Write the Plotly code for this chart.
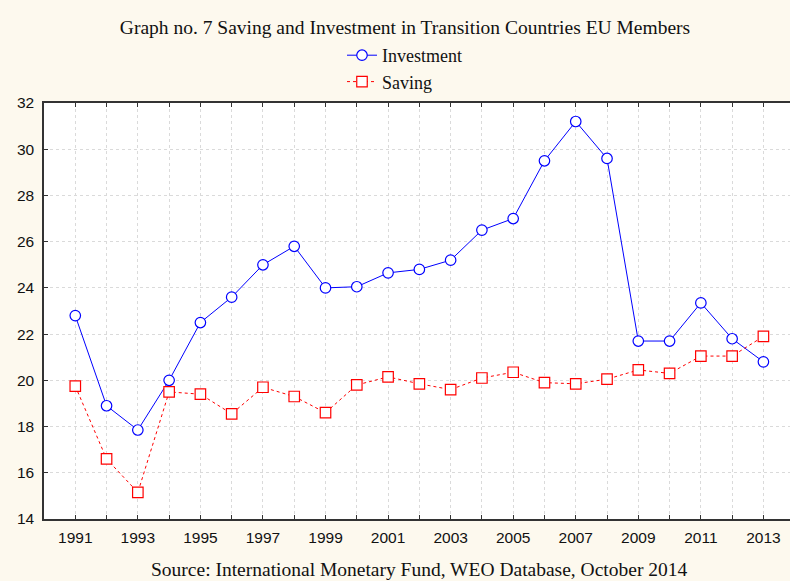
import plotly.graph_objects as go

years = list(range(1991, 2014))
investment = [22.8, 18.9, 17.85, 20.0, 22.5, 23.6, 25.0, 25.8, 24.0, 24.05, 24.65, 24.8,
              25.2, 26.5, 27.0, 29.5, 31.2, 29.6, 21.7, 21.7, 23.35, 21.8, 20.8]
saving = [19.75, 16.6, 15.15, 19.5, 19.4, 18.55, 19.7, 19.3, 18.6, 19.8, 20.15, 19.85,
          19.6, 20.1, 20.35, 19.9, 19.85, 20.05, 20.45, 20.3, 21.05, 21.05, 21.9]
x_tick_labels = [str(y) if y % 2 == 1 else "" for y in years]
y_ticks = [14, 16, 18, 20, 22, 24, 26, 28, 30, 32]

W, H = 790, 581
L, R, T, B = 44, 0, 103, 62
PW, PH = W - L - R, H - T - B

BG = "#fdf9ee"
serif = "Liberation Serif, Times New Roman, serif"
sans = "Liberation Sans, Arial, sans-serif"

fig = go.Figure()
fig.add_trace(go.Scatter(
    x=years, y=investment, name="Investment", mode="lines+markers",
    line=dict(color="#0000ff", width=1),
    marker=dict(symbol="circle", size=10.5, color="white", line=dict(color="#0000ff", width=1.2)),
))
fig.add_trace(go.Scatter(
    x=years, y=saving, name="Saving", mode="lines+markers",
    line=dict(color="#ff0000", width=1, dash="dot"),
    marker=dict(symbol="square", size=10.5, color="white", line=dict(color="#ff0000", width=1.2)),
))

fig.update_layout(
    width=W, height=H,
    paper_bgcolor=BG, plot_bgcolor="white",
    margin=dict(l=L, r=R, t=T, b=B),
    title=dict(text="Graph no. 7 Saving and Investment in Transition Countries EU Members",
               font=dict(family=serif, size=19.5, color="#111"),
               x=405 / W, xanchor="center", y=1 - 27 / H, yanchor="middle"),
    legend=dict(x=(342 - L) / PW, xanchor="left", y=(H - B - 37) / PH, yanchor="top",
                font=dict(family=serif, size=18, color="#111"),
                bgcolor="rgba(0,0,0,0)", tracegroupgap=0, itemwidth=30),
    showlegend=True,
    annotations=[dict(text="Source: International Monetary Fund, WEO Database, October 2014",
                      xref="paper", yref="paper", x=(419 - L) / PW, y=(H - B - 569) / PH,
                      xanchor="center", yanchor="middle", showarrow=False,
                      font=dict(family=serif, size=19.5, color="#111"))],
)

fig.update_xaxes(
    range=[1990, 2013.85], tickvals=years, ticktext=x_tick_labels,
    showgrid=True, gridcolor="#dadada", griddash="dot", gridwidth=1,
    showline=True, linecolor="#333", linewidth=1.5, mirror="ticks",
    ticks="inside", ticklen=4, tickcolor="#333", ticklabelstandoff=4,
    tickfont=dict(family=sans, size=15.5, color="#111"), zeroline=False,
)
fig.update_yaxes(
    range=[14, 32], tickvals=y_ticks,
    showgrid=True, gridcolor="#dadada", griddash="dot", gridwidth=1,
    showline=True, linecolor="#333", linewidth=1.5,
    ticks="inside", ticklen=4, tickcolor="#333", ticklabelstandoff=5,
    tickfont=dict(family=sans, size=15.5, color="#111"), zeroline=False,
)

fig.write_html("out.html", config={"displayModeBar": False},
               post_script="document.body.style.margin='0';")
